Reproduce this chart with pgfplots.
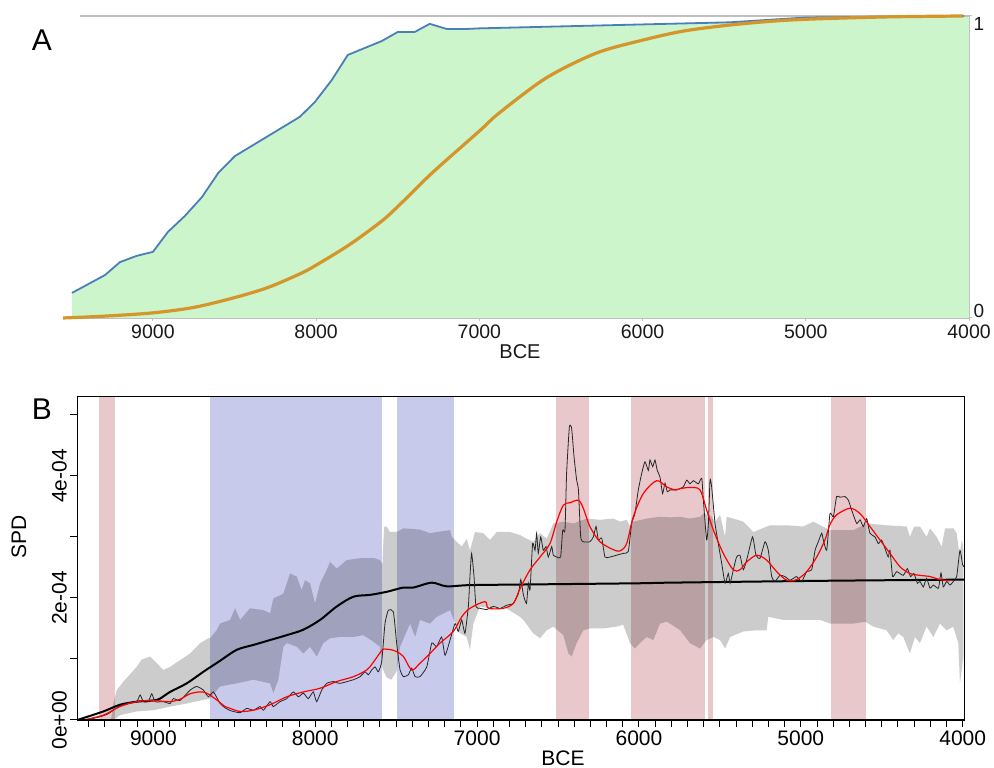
\documentclass[border=0pt]{standalone}
\usepackage{fontspec}
\setmainfont{Liberation Sans}
\usepackage{pgfplots}
\pgfplotsset{compat=1.18}
\definecolor{gfill}{RGB}{204,245,204}
\definecolor{bline}{RGB}{74,126,187}
\definecolor{oline}{RGB}{212,149,42}
\definecolor{agray}{RGB}{191,191,191}
\definecolor{pinkr}{RGB}{232,200,203}
\definecolor{bluer}{RGB}{200,202,236}
\begin{document}
\begin{tikzpicture}[x=1bp,y=1bp]
\useasboundingbox (0,0) rectangle (994,768);
% ---------------- Panel A ----------------
\begin{axis}[at={(63bp,450bp)}, anchor=south west, scale only axis,
  width=906bp, height=302bp, xmin=4000, xmax=9551, x dir=reverse,
  ymin=0, ymax=1, clip=false,
  axis x line*=bottom, axis y line*=right,
  axis line style={draw=agray, line width=1.2bp, -},
  tick style={draw=agray, line width=1bp},
  major tick length=6bp, tick align=center,
  xtick={4000,5000,6000,7000,8000,9000},
  xticklabels={4000,5000,6000,7000,8000,9000},
  ytick={0,1}, yticklabels={,},
  x tick label style={font=\fontsize{19.5bp}{23bp}\selectfont, text=black!90},
]
\addplot[fill=gfill, draw=none] coordinates {
(9496,0.083) (9294,0.142) (9202,0.185) (9098,0.206) (9000,0.219) (8908,0.285)
(8804,0.338) (8700,0.40) (8600,0.48) (8498,0.536) (8406,0.566) (8302,0.60)
(8204,0.632) (8100,0.666) (8008,0.715) (7904,0.788) (7806,0.871) (7702,0.894)
(7598,0.917) (7500,0.947) (7396,0.947) (7304,0.974) (7200,0.957) (7078,0.957)
(7000,0.959) (5467,0.979) (5000,0.995) (4000,1.0)} \closedcycle;
\addplot[agray, line width=1.2bp] coordinates {(9447,1) (4000,1)};
\addplot[bline, line width=1.8bp] coordinates {
(9496,0.083) (9294,0.142) (9202,0.185) (9098,0.206) (9000,0.219) (8908,0.285)
(8804,0.338) (8700,0.40) (8600,0.48) (8498,0.536) (8406,0.566) (8302,0.60)
(8204,0.632) (8100,0.666) (8008,0.715) (7904,0.788) (7806,0.871) (7702,0.894)
(7598,0.917) (7500,0.947) (7396,0.947) (7304,0.974) (7200,0.957) (7078,0.957)
(7000,0.959) (5467,0.979) (5000,0.995) (4030,1.0)};
\addplot[oline, line width=3.2bp, smooth] coordinates {
(9551,0.0) (9300,0.006) (9000,0.017) (8750,0.035) (8510,0.066) (8300,0.10)
(8100,0.146) (8000,0.175) (7798,0.242) (7600,0.32) (7490,0.374) (7290,0.48)
(7000,0.619) (6878,0.679) (6590,0.795) (6284,0.877) (6000,0.92) (5750,0.95)
(5467,0.97) (5200,0.983) (4957,0.99) (4500,0.997) (4037,1.0)};
\end{axis}
% ---------------- Panel B ----------------
\begin{axis}[at={(77.3bp,48bp)}, anchor=south west, scale only axis,
  width=887bp, height=323.5bp, xmin=3990, xmax=9470, x dir=reverse,
  ymin=0, ymax=5.3, axis on top,
  axis line style={line width=1.3bp, black},
  tick style={black, line width=1bp},
  tick align=outside, major tick length=7bp, minor tick length=7bp,
  xtick pos=bottom, ytick pos=left,
  xtick={4000,5000,6000,7000,8000,9000},
  xticklabels={4000,5000,6000,7000,8000,9000},
  minor xtick={4100,4200,4300,4400,4500,4600,4700,4800,4900,5100,5200,5300,5400,5500,5600,5700,5800,5900,6100,6200,6300,6400,6500,6600,6700,6800,6900,7100,7200,7300,7400,7500,7600,7700,7800,7900,8100,8200,8300,8400,8500,8600,8700,8800,8900,9100,9200,9300,9400},
  ytick={0,1,2,3,4,5},
  yticklabels={0e+00,,2e-04,,4e-04,},
  x tick label style={font=\fontsize{21bp}{25bp}\selectfont},
  y tick label style={font=\fontsize{21bp}{25bp}\selectfont, rotate=90, anchor=south},
]
% shaded periods
\addplot[fill=pinkr, draw=none] coordinates {(9333,5.3) (9234,5.3)} \closedcycle;
\addplot[fill=bluer, draw=none] coordinates {(8649,5.3) (7588,5.3)} \closedcycle;
\addplot[fill=bluer, draw=none] coordinates {(7496,5.3) (7144,5.3)} \closedcycle;
\addplot[fill=pinkr, draw=none] coordinates {(6511,5.3) (6310,5.3)} \closedcycle;
\addplot[fill=pinkr, draw=none] coordinates {(6052,5.3) (5595,5.3)} \closedcycle;
\addplot[fill=pinkr, draw=none] coordinates {(5572,5.3) (5543,5.3)} \closedcycle;
\addplot[fill=pinkr, draw=none] coordinates {(4816,5.3) (4600,5.3)} \closedcycle;
% envelope (upper then lower)
\addplot[fill=black, fill opacity=0.2, draw=none] coordinates {
(9262,0) (9245,0.30) (9226,0.49) (9185,0.63) (9103,0.87) (9072,0.99) (9020,1.04)
(8979,0.93) (8938,0.82) (8897,0.87) (8835,0.98) (8773,1.09) (8711,1.26) (8660,1.34)
(8650,1.34) (8609,1.47) (8588,1.58) (8526,1.64) (8495,1.83) (8464,1.64) (8403,1.83)
(8320,1.80) (8279,1.75) (8259,1.99) (8197,2.07) (8156,2.40) (8114,2.35) (8084,2.13)
(8063,2.29) (8032,2.24) (8001,1.91) (7970,2.24) (7929,2.46) (7908,2.59) (7867,2.48)
(7806,2.62) (7723,2.65) (7631,2.65) (7600,2.62) (7585,2.55) (7575,3.17) (7559,3.17)
(7538,3.08) (7497,3.08) (7455,3.14) (7353,3.12) (7291,3.06) (7250,3.08) (7167,3.11)
(7157,3.0) (7126,2.92) (7095,2.84) (7064,2.97) (7044,2.78) (7013,3.08) (6961,3.06)
(6920,2.95) (6879,3.08) (6796,3.08) (6735,3.03) (6694,2.97) (6653,2.92) (6611,3.06)
(6570,2.97) (6529,3.22) (6467,3.25) (6405,3.22) (6323,3.30) (6241,3.28) (6158,3.30)
(6117,3.25) (6076,3.28) (6055,3.17) (6035,3.25) (5952,3.30) (5870,3.33) (5808,3.32)
(5746,3.33) (5685,3.30) (5623,3.33) (5602,3.38) (5561,3.36) (5530,3.25) (5499,3.36)
(5468,3.0) (5458,3.33) (5417,3.30) (5355,3.25) (5293,3.08) (5190,3.19) (5087,3.19)
(4984,3.17) (4923,3.25) (4881,3.19) (4820,3.11) (4676,3.11) (4593,3.22) (4470,3.19)
(4346,3.17) (4326,3.0) (4300,3.17) (4264,3.17) (4223,3.0) (4202,3.14) (4161,3.0)
(4130,2.84) (4109,3.14) (4058,3.14) (4037,3.06) (4020,2.7) (4005,2.95) (3996,2.8)
(3996,1.04) (4017,0.60) (4027,1.26) (4058,1.53) (4099,1.47) (4140,1.58) (4181,1.36)
(4223,1.53) (4264,1.26) (4295,1.36) (4326,1.09) (4367,1.36) (4398,1.42) (4429,1.31)
(4470,1.47) (4552,1.53) (4603,1.61) (4676,1.58) (4820,1.58) (4881,1.64) (4984,1.64)
(5108,1.64) (5201,1.69) (5211,1.47) (5273,1.47) (5355,1.45) (5437,1.36) (5468,1.17)
(5499,1.31) (5540,1.36) (5582,1.31) (5623,1.17) (5685,1.26) (5746,1.47) (5808,1.58)
(5829,1.61) (5870,1.58) (5911,1.31) (5952,1.36) (5994,1.26) (6025,1.17) (6055,1.26)
(6097,1.56) (6138,1.53) (6220,1.50) (6303,1.50) (6344,1.47) (6385,1.26) (6416,1.04)
(6436,1.09) (6467,1.39) (6529,1.53) (6570,1.47) (6611,1.34) (6653,1.42) (6714,1.64)
(6735,1.69) (6838,1.86) (6920,1.83) (6982,1.86) (7023,1.58) (7044,1.15) (7064,1.36)
(7105,1.42) (7136,1.58) (7167,1.80) (7250,1.69) (7291,1.58) (7353,1.64) (7383,1.36)
(7414,1.58) (7476,1.20) (7497,0.80) (7530,0.66) (7560,0.70) (7585,0.85) (7600,1.20)
(7650,1.30) (7703,1.39) (7764,1.36) (7847,1.36) (7908,1.34) (7950,1.26) (7991,1.04)
(8032,1.20) (8073,1.09) (8114,1.20) (8176,1.26) (8197,1.20) (8228,0.66) (8259,0.44)
(8279,0.60) (8382,0.66) (8485,0.60) (8588,0.55) (8620,0.45) (8650,0.35) (8691,0.33)
(8794,0.27) (8897,0.22) (9000,0.16) (9103,0.14) (9206,0.08) (9230,0.03) (9262,0)} --cycle;
% null model
\addplot[black, line width=2bp, smooth] coordinates {
(9470,0) (9309,0.14) (9206,0.25) (9103,0.30) (9000,0.32) (8959,0.35) (8897,0.46)
(8794,0.60) (8691,0.79) (8588,0.97) (8485,1.15) (8382,1.23) (8279,1.31) (8176,1.39)
(8073,1.48) (7970,1.64) (7867,1.86) (7764,2.02) (7661,2.05) (7559,2.10) (7455,2.17)
(7394,2.17) (7280,2.25) (7188,2.19) (7044,2.21) (6704,2.22) (6000,2.24) (5808,2.25)
(4881,2.28) (3990,2.30)};
% observed SPD
\addplot[black!85, line width=0.8bp, smooth, tension=0.3] coordinates {
(9432,0) (9380,0.02) (9320,0.06) (9280,0.10) (9247,0.16) (9200,0.24) (9165,0.27)
(9103,0.30) (9082,0.41) (9062,0.30) (9031,0.30) (9010,0.43) (8989,0.30) (8938,0.30)
(8897,0.27) (8876,0.35) (8835,0.32) (8773,0.49) (8732,0.55) (8691,0.49) (8660,0.38)
(8629,0.46) (8588,0.27) (8557,0.20) (8530,0.16) (8506,0.14) (8464,0.12) (8423,0.19)
(8382,0.16) (8341,0.22) (8320,0.16) (8279,0.30) (8259,0.22) (8218,0.30) (8176,0.35)
(8135,0.46) (8104,0.38) (8073,0.44) (8043,0.35) (8012,0.46) (7991,0.30) (7960,0.49)
(7929,0.60) (7888,0.63) (7847,0.60) (7764,0.66) (7723,0.71) (7692,0.79) (7672,0.74)
(7651,0.82) (7630,0.87) (7610,0.79) (7589,0.96) (7569,1.58) (7548,1.80) (7517,1.77)
(7497,1.26) (7476,0.82) (7455,0.71) (7425,0.74) (7404,0.85) (7383,0.71) (7353,0.71)
(7311,0.87) (7280,1.26) (7250,1.20) (7219,1.36) (7198,1.06) (7167,1.31) (7136,1.58)
(7116,1.45) (7095,1.64) (7075,1.42) (7054,1.86) (7044,2.35) (7034,2.73) (7019,2.35)
(7007,1.86) (6982,1.83) (6941,1.81) (6900,1.86) (6858,1.83) (6817,1.88) (6776,1.91)
(6745,2.07) (6730,2.30) (6714,2.05) (6695,1.91) (6683,2.24) (6673,2.13) (6657,2.89)
(6642,2.78) (6632,3.06) (6622,2.73) (6607,3.00) (6591,2.78) (6574,2.84) (6560,2.67)
(6539,2.84) (6529,2.70) (6508,2.67) (6484,2.67) (6471,3.11) (6457,3.11) (6447,4.04)
(6430,4.80) (6416,4.78) (6401,4.31) (6385,3.93) (6374,3.77) (6360,3.00) (6344,2.92)
(6303,2.92) (6282,3.00) (6265,3.17) (6251,2.95) (6230,2.98) (6210,2.67) (6179,2.67)
(6138,2.70) (6097,2.73) (6066,2.76) (6045,3.22) (6025,3.38) (6004,3.77) (5983,4.04)
(5963,4.23) (5942,4.09) (5932,4.26) (5915,4.15) (5901,4.26) (5887,4.09) (5870,3.98)
(5854,3.71) (5839,3.88) (5825,3.74) (5808,3.77) (5767,3.77) (5726,3.82) (5705,3.93)
(5685,3.87) (5664,3.92) (5633,3.87) (5612,3.96) (5602,3.60) (5582,2.95) (5571,3.22)
(5561,3.93) (5551,3.82) (5530,3.22) (5510,2.89) (5489,2.57) (5468,2.24) (5448,2.40)
(5437,2.24) (5417,2.46) (5397,2.67) (5376,2.70) (5355,2.46) (5330,2.67) (5298,3.00)
(5277,2.70) (5252,2.65) (5221,2.92) (5201,2.78) (5180,2.35) (5160,2.27) (5129,2.37)
(5098,2.35) (5067,2.29) (5026,2.35) (4995,2.27) (4964,2.43) (4933,2.46) (4912,2.78)
(4892,2.92) (4871,3.06) (4861,2.95) (4840,2.78) (4820,3.38) (4799,3.33) (4779,3.66)
(4758,3.65) (4727,3.66) (4706,3.60) (4686,3.44) (4655,3.22) (4634,3.28) (4614,3.17)
(4593,3.30) (4573,3.06) (4542,3.00) (4521,2.89) (4501,2.95) (4480,2.81) (4460,2.67)
(4449,2.78) (4433,2.35) (4408,2.43) (4367,2.37) (4342,2.48) (4322,2.35) (4301,2.40)
(4280,2.24) (4264,2.27) (4243,2.18) (4223,2.32) (4202,2.16) (4181,2.21) (4150,2.16)
(4134,2.41) (4120,2.18) (4099,2.27) (4078,2.21) (4058,2.27) (4037,2.35) (4017,2.78)
(4000,2.54) (3990,2.51)};
% smoothed SPD
\addplot[red, line width=1.2bp, smooth] coordinates {
(9432,0) (9309,0.08) (9206,0.22) (9103,0.30) (9000,0.32) (8897,0.30) (8835,0.34)
(8773,0.43) (8711,0.46) (8670,0.44) (8609,0.33) (8557,0.22) (8526,0.19) (8464,0.14)
(8382,0.16) (8279,0.25) (8176,0.38) (8073,0.46) (7970,0.52) (7867,0.63) (7764,0.71)
(7682,0.82) (7640,0.95) (7600,1.10) (7579,1.16) (7530,1.15) (7497,1.12) (7455,1.04)
(7404,0.82) (7353,0.93) (7291,1.09) (7229,1.26) (7147,1.45) (7095,1.69) (7044,1.83)
(6951,1.94) (6930,1.83) (6838,1.83) (6776,1.91) (6735,2.15) (6673,2.46) (6611,2.67)
(6550,2.89) (6508,3.25) (6467,3.52) (6426,3.56) (6374,3.60) (6344,3.47) (6303,3.17)
(6241,2.92) (6158,2.79) (6117,2.77) (6076,2.89) (6035,3.33) (5973,3.71) (5891,3.92)
(5829,3.82) (5777,3.77) (5746,3.79) (5685,3.81) (5623,3.77) (5582,3.44) (5540,3.11)
(5479,2.73) (5417,2.46) (5376,2.46) (5334,2.59) (5273,2.70) (5211,2.62) (5149,2.43)
(5087,2.29) (5026,2.30) (4964,2.43) (4902,2.67) (4851,2.95) (4820,3.20) (4779,3.36)
(4696,3.47) (4634,3.38) (4573,3.17) (4511,2.95) (4449,2.73) (4387,2.51) (4326,2.40)
(4264,2.37) (4202,2.35) (4140,2.30) (4080,2.28)};
\end{axis}
% ---------------- text ----------------
\node[font=\fontsize{30bp}{34bp}\selectfont] at (42,728) {A};
\node[font=\fontsize{20bp}{24bp}\selectfont, text=black!90] at (520,416) {BCE};
\node[font=\fontsize{19bp}{23bp}\selectfont, text=black!90] at (979,744) {1};
\node[font=\fontsize{19bp}{23bp}\selectfont, text=black!90] at (979,457) {0};
\node[font=\fontsize{30bp}{34bp}\selectfont] at (42,359) {B};
\node[font=\fontsize{21bp}{25bp}\selectfont, rotate=90] at (19,231) {SPD};
\node[font=\fontsize{21bp}{25bp}\selectfont] at (563,10) {BCE};
\end{tikzpicture}
\end{document}
